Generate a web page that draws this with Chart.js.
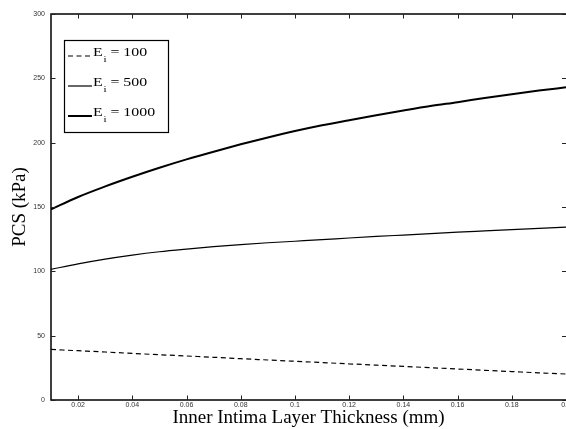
<!DOCTYPE html>
<html>
<head>
<meta charset="utf-8">
<script src="https://cdn.jsdelivr.net/npm/chart.js@4"></script>
<style>
  body { margin: 0; background: #fff; }
  #wrap { width: 566px; height: 429px; position: relative; }
</style>
</head>
<body>
<div id="wrap"><canvas id="pcs-chart"></canvas></div>
<script>
// intima thickness (mm) and PCS (kPa)
const thickness = [0.01, 0.02, 0.03, 0.04, 0.05, 0.06, 0.07, 0.08, 0.09, 0.10,
                   0.11, 0.12, 0.13, 0.14, 0.15, 0.16, 0.17, 0.18, 0.19, 0.20];
const pcsE100 = [39.3, 38.3, 37.3, 36.2, 35.2, 34.2, 33.2, 32.1, 31.1, 30.1,
                 29.1, 28.1, 27.1, 26.1, 25.1, 24.1, 23.1, 22.1, 21.1, 20.2];
const pcsE500 = [101.5, 105.8, 109.5, 112.6, 115.2, 117.3, 119.2, 120.8, 122.2, 123.4,
                 124.6, 125.9, 127.1, 128.2, 129.3, 130.4, 131.4, 132.4, 133.4, 134.4];
const pcsE1000 = [148.1, 157.8, 166, 173.5, 180.5, 187, 193, 198.7, 204, 209,
                  213.5, 217.5, 221.3, 225, 228.5, 231.5, 234.7, 237.7, 240.5, 243];
const moduli = [100, 500, 1000];
const xTicks = [0.02, 0.04, 0.06, 0.08, 0.1, 0.12, 0.14, 0.16, 0.18, 0.2];
const yTicks = [0, 50, 100, 150, 200, 250, 300];

const serif = '"Liberation Serif", "Times New Roman", serif';
const sans = '"Liberation Sans", Arial, sans-serif';

function pts(values) {
  return thickness.map((t, i) => ({ x: t, y: values[i] }));
}

// matlab style box, inward ticks and the legend with subscripts
const framePlugin = {
  id: 'frame',
  afterDraw(chart) {
    const { ctx, chartArea: a, scales: { x, y } } = chart;
    ctx.save();
    ctx.strokeStyle = '#000';
    ctx.lineWidth = 1.5;
    // right edge of the box falls outside the picture
    ctx.beginPath();
    ctx.moveTo(a.right + 2, a.top);
    ctx.lineTo(a.left, a.top);
    ctx.lineTo(a.left, a.bottom);
    ctx.lineTo(a.right + 2, a.bottom);
    ctx.stroke();

    ctx.lineWidth = 1;
    ctx.strokeStyle = '#222';
    ctx.beginPath();
    x.ticks.forEach(t => {
      const px = Math.round(x.getPixelForValue(t.value)) + 0.5;
      ctx.moveTo(px, a.bottom); ctx.lineTo(px, a.bottom - 4.5);
      ctx.moveTo(px, a.top); ctx.lineTo(px, a.top + 4.5);
    });
    y.ticks.forEach(t => {
      const py = Math.round(y.getPixelForValue(t.value)) + 0.5;
      ctx.moveTo(a.left, py); ctx.lineTo(a.left + 4.5, py);
      ctx.moveTo(a.right + 1, py); ctx.lineTo(a.right - 4, py);
    });
    ctx.stroke();

    // legend
    const lx = 64.5, ly = 40.5, lw = 104, lh = 92;
    ctx.fillStyle = '#fff';
    ctx.fillRect(lx, ly, lw, lh);
    ctx.strokeStyle = '#000';
    ctx.lineWidth = 1.2;
    ctx.strokeRect(lx, ly, lw, lh);

    chart.data.datasets.forEach((ds, i) => {
      const base = 56 + i * 30;
      ctx.beginPath();
      ctx.setLineDash(ds.borderDash || []);
      ctx.lineWidth = ds.borderWidth;
      ctx.moveTo(68, base);
      ctx.lineTo(92, base);
      ctx.stroke();
      ctx.setLineDash([]);

      ctx.fillStyle = '#000';
      ctx.textBaseline = 'alphabetic';
      ctx.textAlign = 'left';
      ctx.save();
      ctx.translate(93, base);
      ctx.scale(1.22, 1);
      ctx.font = '13px ' + serif;
      ctx.fillText('E', 0, 0);
      let w = ctx.measureText('E').width + 0.6;
      ctx.font = '9px ' + serif;
      ctx.fillText('i', w, 5.5);
      w += ctx.measureText('i').width;
      ctx.font = '13px ' + serif;
      ctx.fillText(' = ' + moduli[i], w, 0);
      ctx.restore();
    });
    ctx.restore();
  }
};

const ctx = document.getElementById('pcs-chart').getContext('2d');
new Chart(ctx, {
  type: 'line',
  data: {
    datasets: [
      { label: 'E_i = 100', data: pts(pcsE100), borderColor: '#000', borderWidth: 1.2, borderDash: [5, 3.5] },
      { label: 'E_i = 500', data: pts(pcsE500), borderColor: '#000', borderWidth: 1.2 },
      { label: 'E_i = 1000', data: pts(pcsE1000), borderColor: '#000', borderWidth: 2 }
    ]
  },
  options: {
    responsive: true,
    maintainAspectRatio: false,
    animation: false,
    elements: {
      point: { radius: 0 },
      line: { cubicInterpolationMode: 'monotone', fill: false }
    },
    layout: { padding: { top: 14, right: 0, bottom: 0, left: 0 } },
    plugins: {
      legend: { display: false },
      tooltip: { enabled: false }
    },
    scales: {
      x: {
        type: 'linear',
        min: 0.01,
        max: 0.2,
        afterBuildTicks: s => { s.ticks = xTicks.map(v => ({ value: v })); },
        afterFit: s => { s.height = 29; s.paddingLeft = 0; s.paddingRight = 0; },
        grid: { display: false, drawTicks: false },
        border: { display: false },
        ticks: {
          autoSkip: false,
          maxRotation: 0,
          padding: 1,
          color: '#333',
          font: { family: sans, size: 7 },
          callback: v => String(v)
        },
        title: {
          display: true,
          text: 'Inner Intima Layer Thickness (mm)',
          color: '#000',
          font: { family: serif, size: 19, lineHeight: 1 },
          padding: { top: 0, bottom: 1 }
        }
      },
      y: {
        min: 0,
        max: 300,
        afterBuildTicks: s => { s.ticks = yTicks.map(v => ({ value: v })); },
        afterFit: s => { s.width = 51; s.paddingTop = 0; s.paddingBottom = 0; },
        grid: { display: false, drawTicks: false },
        border: { display: false },
        ticks: {
          padding: 6,
          color: '#333',
          font: { family: sans, size: 7 },
          callback: v => String(v)
        },
        title: {
          display: true,
          text: 'PCS (kPa)',
          color: '#000',
          font: { family: serif, size: 19, lineHeight: 1 },
          padding: { top: 11, bottom: 0 }
        }
      }
    }
  },
  plugins: [framePlugin]
});
</script>
</body>
</html>
